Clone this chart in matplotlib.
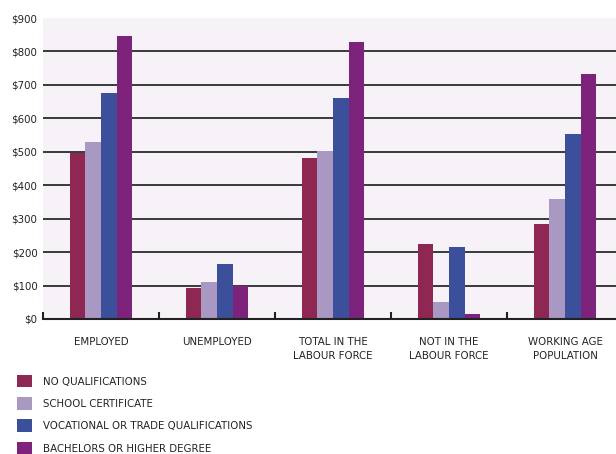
import numpy as np
import matplotlib.pyplot as plt
from matplotlib.patches import Patch

plt.rcParams['font.family'] = ['DejaVu Sans']
plt.rcParams['font.stretch'] = 'condensed'

# Weekly income by labour force status and qualification
categories = ["EMPLOYED", "UNEMPLOYED", "TOTAL IN THE\nLABOUR FORCE",
              "NOT IN THE\nLABOUR FORCE", "WORKING AGE\nPOPULATION"]
no_qual = [495, 93, 480, 225, 285]
school_cert = [528, 110, 503, 50, 360]
vocational = [675, 165, 662, 215, 552]
bachelors = [845, 100, 828, 14, 732]

series = ["NO QUALIFICATIONS", "SCHOOL CERTIFICATE",
          "VOCATIONAL OR TRADE QUALIFICATIONS", "BACHELORS OR HIGHER DEGREE"]
colors = ["#8e2751", "#a898c2", "#3b4f9a", "#7d237b"]

yticks = [0, 100, 200, 300, 400, 500, 600, 700, 800, 900]

W, H = 616, 454
fig = plt.figure(figsize=(W / 100, H / 100), dpi=100)
ax = fig.add_axes([43 / W, (H - 319) / H, 580 / W, 301 / H])
ax.set_facecolor("#f7f2f7")

x = np.arange(len(categories))
bw = 0.134
for i, vals in enumerate([no_qual, school_cert, vocational, bachelors]):
    ax.bar(x + (i - 1.5) * bw, vals, width=bw, color=colors[i], zorder=3)

ax.set_xlim(-0.5, len(categories) - 0.5)
ax.set_ylim(0, 900)

# gridlines (none at the top)
for v in yticks[1:-1]:
    ax.axhline(v, color="#2b2b2b", lw=1.3, zorder=1)

fs = 8.2
ax.set_yticks(yticks)
ax.set_yticklabels(["$%d" % v for v in yticks], fontsize=fs, color="#222222")
ax.tick_params(axis="y", length=0, pad=4)

# boundary ticks and centred category labels
ax.set_xticks(np.arange(len(categories) + 1) - 0.5)
ax.set_xticklabels([])
ax.tick_params(axis="x", which="major", direction="in", length=5, width=1.5,
               color="#222222")
ax.set_xticks(x, minor=True)
ax.set_xticklabels(categories, minor=True, fontsize=fs, color="#222222",
                   linespacing=1.45)
ax.tick_params(axis="x", which="minor", length=0, pad=13)

for s in ["left", "right", "top"]:
    ax.spines[s].set_visible(False)
ax.spines["bottom"].set_linewidth(1.5)
ax.spines["bottom"].set_color("#222222")
ax.spines["bottom"].set_zorder(4)

handles = [Patch(facecolor=c, edgecolor="none") for c in colors]
fig.legend(handles, series, loc="upper left",
           bbox_to_anchor=(17 / W, 1 - 375 / H), frameon=False,
           fontsize=fs, handlelength=1.3, handleheight=1.3,
           handletextpad=1.0, labelspacing=0.86, borderpad=0,
           borderaxespad=0, labelcolor="#222222")

fig.savefig("out.png", dpi=100)
